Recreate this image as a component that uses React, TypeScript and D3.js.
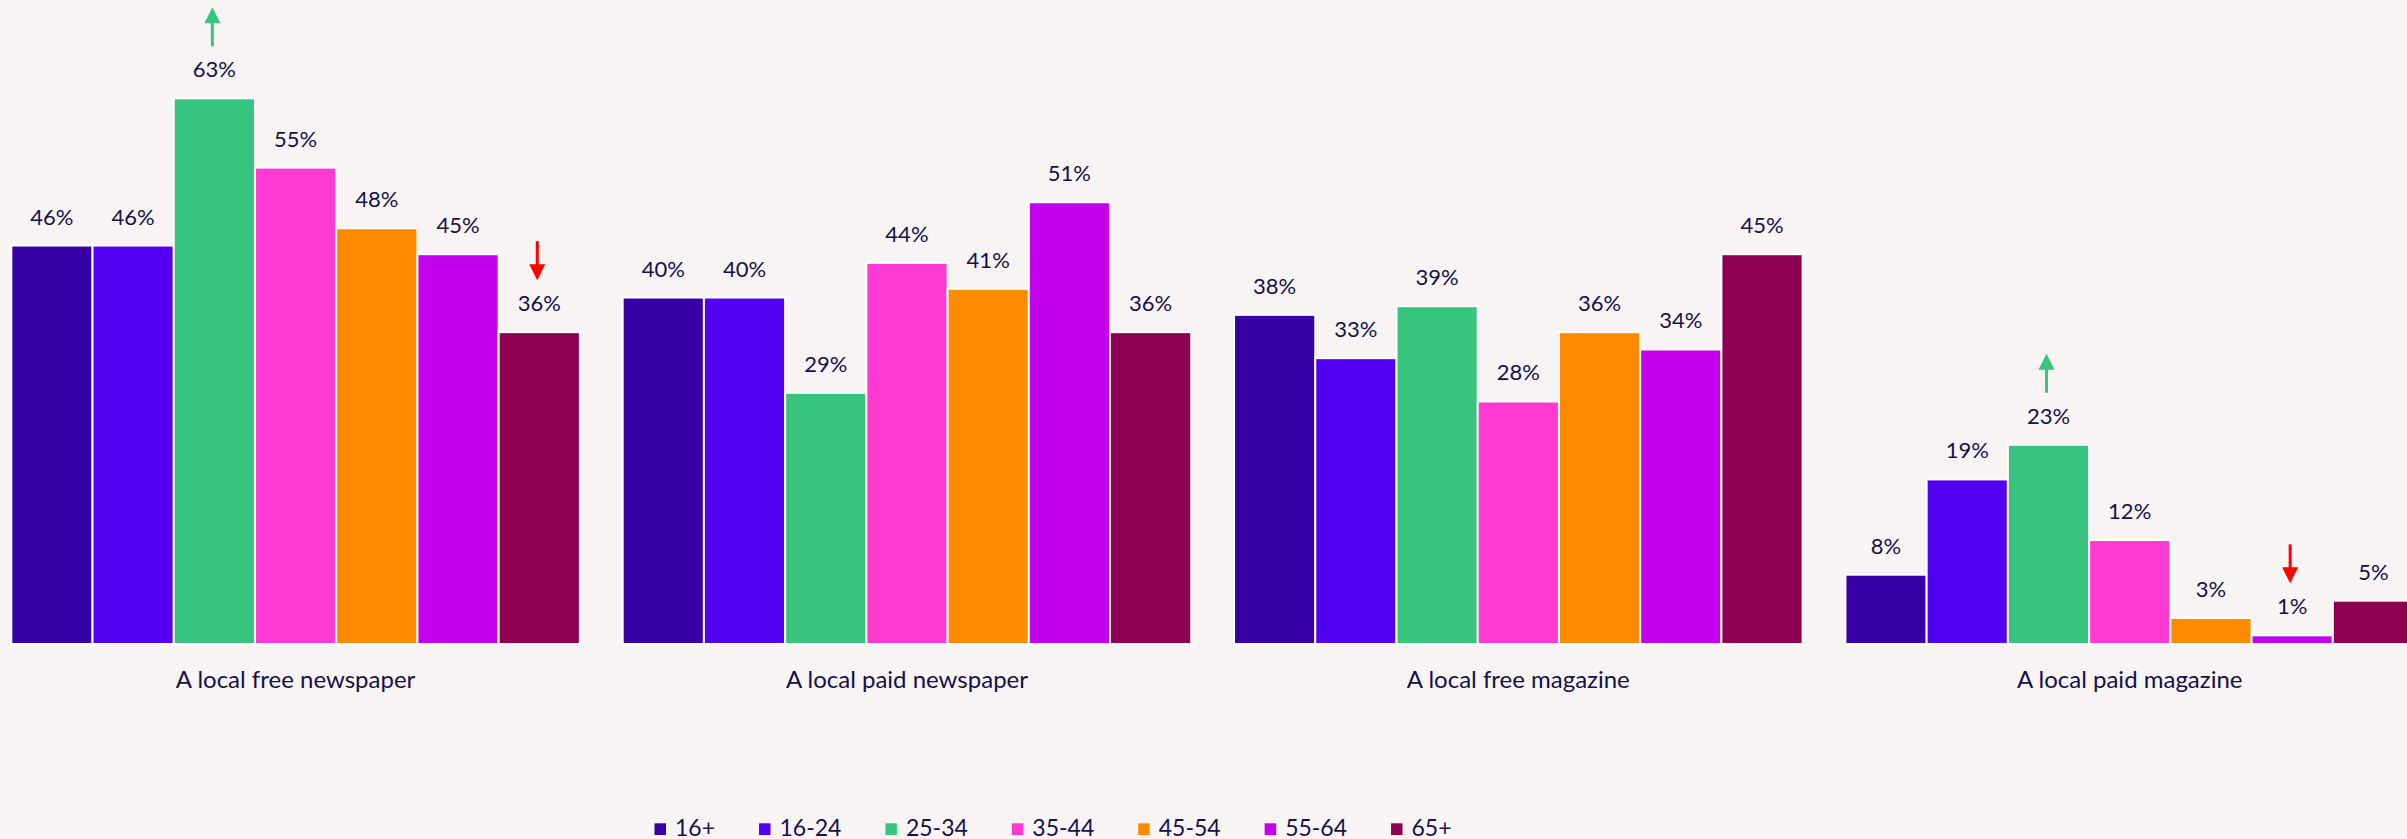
import React, { useEffect, useMemo } from "react";
import * as d3 from "d3";

const categories = [
  "A local free newspaper",
  "A local paid newspaper",
  "A local free magazine",
  "A local paid magazine",
];
const seriesNames = ["16+", "16-24", "25-34", "35-44", "45-54", "55-64", "65+"];
const seriesColors = ["#3900a7", "#5200ef", "#36c47f", "#ff3ad0", "#ff8a00", "#c400ec", "#8e0052"];

const values16plus = [46, 40, 38, 8];
const values16_24 = [46, 40, 33, 19];
const values25_34 = [63, 29, 39, 23];
const values35_44 = [55, 44, 28, 12];
const values45_54 = [48, 41, 36, 3];
const values55_64 = [45, 51, 34, 1];
const values65plus = [36, 36, 45, 5];
const seriesValues = [values16plus, values16_24, values25_34, values35_44, values45_54, values55_64, values65plus];

// significance markers: [category index, series index, direction]
const arrowMarks: [number, number, "up" | "down"][] = [
  [0, 2, "up"],
  [0, 6, "down"],
  [3, 2, "up"],
  [3, 5, "down"],
];

const W = 2407;
const H = 839;
const FONT = "Lato, 'Open Sans', sans-serif";
const TEXT = "#14114a";
const BG = "#f8f4f3";

export default function App() {
  useEffect(() => {
    document.body.style.margin = "0";
    document.body.style.overflow = "hidden";
    document.body.style.background = BG;
  }, []);

  const x0 = d3.scaleBand<string>().domain(categories).range([11.3, 2414]).paddingInner(0.07).paddingOuter(0);
  const x1 = d3.scaleBand<string>().domain(seriesNames).range([0, x0.bandwidth()]).padding(0);
  const y = d3.scaleLinear().domain([0, 63]).range([644, 98.3]);

  const legendItems = useMemo(() => {
    const ctx = document.createElement("canvas").getContext("2d");
    let cx = 654.5;
    return seriesNames.map((s, i) => {
      let w = s.length * 12;
      if (ctx) {
        ctx.font = `23px ${FONT}`;
        w = ctx.measureText(s).width;
      }
      const item = { name: s, color: seriesColors[i], x: cx };
      cx += 20.5 + w + 44;
      return item;
    });
  }, []);

  return (
    <svg width={W} height={H} style={{ position: "absolute", left: 0, top: 0, display: "block", background: BG }}>
      <rect x={0} y={0} width={W} height={H} fill={BG} />
      {categories.map((c, ci) => (
        <g key={c} transform={`translate(${x0(c)},0)`}>
          {seriesNames.map((s, si) => {
            const v = seriesValues[si][ci];
            return (
              <rect
                key={s}
                x={x1(s)}
                y={y(v)}
                width={x1.bandwidth()}
                height={y(0) - y(v)}
                fill={seriesColors[si]}
                stroke="#ffffff"
                strokeWidth={2}
              />
            );
          })}
          {seriesNames.map((s, si) => {
            const v = seriesValues[si][ci];
            return (
              <text
                key={s + "l"}
                x={(x1(s) as number) + x1.bandwidth() / 2}
                y={y(v) - 21}
                textAnchor="middle"
                fontFamily={FONT}
                fontSize={22}
                fill={TEXT}
              >
                {v}%
              </text>
            );
          })}
          <text
            x={x0.bandwidth() / 2}
            y={688}
            textAnchor="middle"
            fontFamily={FONT}
            fontSize={24}
            fill={TEXT}
          >
            {c}
          </text>
        </g>
      ))}
      {arrowMarks.map(([ci, si, dir], i) => {
        const v = seriesValues[si][ci];
        const cx = (x0(categories[ci]) as number) + (x1(seriesNames[si]) as number) + x1.bandwidth() / 2 - 2;
        const base = y(v) - 21;
        const top = base - 70;
        const bottom = base - 31;
        const color = dir === "up" ? "#36c47f" : "#ff0000";
        const hh = 16;
        const hw = 8;
        if (dir === "up") {
          return (
            <g key={i}>
              <line x1={cx} x2={cx} y1={bottom} y2={top + hh - 1} stroke={color} strokeWidth={3} />
              <path d={`M${cx},${top} L${cx + hw},${top + hh} L${cx - hw},${top + hh} Z`} fill={color} />
            </g>
          );
        }
        return (
          <g key={i}>
            <line x1={cx} x2={cx} y1={top} y2={bottom - hh + 1} stroke={color} strokeWidth={3} />
            <path d={`M${cx},${bottom} L${cx + hw},${bottom - hh} L${cx - hw},${bottom - hh} Z`} fill={color} />
          </g>
        );
      })}
      {legendItems.map((it) => (
        <g key={it.name}>
          <rect x={it.x} y={823.3} width={11.5} height={11.7} fill={it.color} />
          <text x={it.x + 20.5} y={836} fontFamily={FONT} fontSize={23} fill={TEXT}>
            {it.name}
          </text>
        </g>
      ))}
    </svg>
  );
}
